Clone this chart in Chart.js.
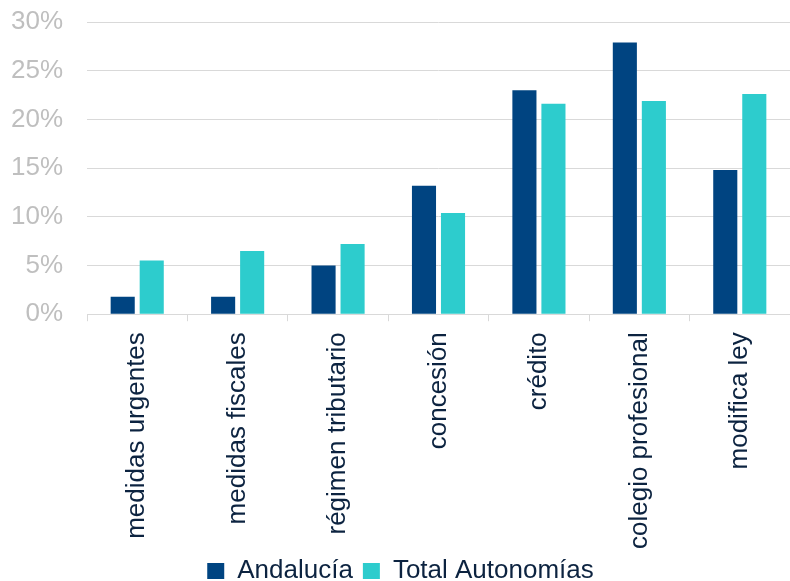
<!DOCTYPE html>
<html>
<head>
<meta charset="utf-8">
<script src="https://cdn.jsdelivr.net/npm/chart.js@4/dist/chart.umd.min.js"></script>
<style>
  body { margin: 0; background: #fff; }
  #wrap { width: 790px; height: 581px; position: relative; }
</style>
</head>
<body>
<div id="wrap"><canvas id="chart"></canvas></div>
<script>
// Categories and series (share of total, %)
const categories = ['medidas urgentes', 'medidas fiscales', 'régimen tributario', 'concesión', 'crédito', 'colegio profesional', 'modifica ley'];
const andalucia = [1.8, 1.8, 5.0, 13.2, 23.0, 27.9, 14.8];
const totalAutonomias = [5.5, 6.5, 7.2, 10.4, 21.6, 21.9, 22.6];
const yTicks = [0, 5, 10, 15, 20, 25, 30];

const navyText = '#0c2340';
const gridColor = '#d9d9d9';
const font = { family: "'Liberation Sans', Arial, sans-serif", size: 26 };

const ctx = document.getElementById('chart');
new Chart(ctx, {
    type: 'bar',
    data: {
        labels: categories,
        datasets: [
            {
                label: 'Andalucía',
                data: andalucia,
                backgroundColor: '#004481',
                categoryPercentage: 0.578,
                barPercentage: 0.83
            },
            {
                label: 'Total Autonomías',
                data: totalAutonomias,
                backgroundColor: '#2dcccd',
                categoryPercentage: 0.578,
                barPercentage: 0.83
            }
        ]
    },
    options: {
        responsive: true,
        maintainAspectRatio: false,
        animation: false,
        layout: {
            padding: { left: 11, right: 0, top: 22, bottom: -13 }
        },
        scales: {
            x: {
                afterFit: function(axis) {
                    // labels sit closer to the legend in the original
                    axis.height -= 12;
                },
                grid: {
                    drawOnChartArea: false,
                    drawTicks: true,
                    tickLength: 7,
                    color: gridColor
                },
                border: { display: true, color: gridColor },
                ticks: {
                    autoSkip: false,
                    maxRotation: 90,
                    minRotation: 90,
                    padding: 11,
                    color: navyText,
                    font: font
                }
            },
            y: {
                min: 0,
                max: 30,
                afterBuildTicks: function(axis) {
                    axis.ticks = yTicks.map(v => ({ value: v }));
                },
                afterFit: function(axis) {
                    axis.width = 76;
                    axis.paddingTop = 0;
                    axis.paddingBottom = 0;
                },
                grid: {
                    drawTicks: false,
                    color: gridColor
                },
                border: { display: false },
                ticks: {
                    padding: 24,
                    color: '#bfbfbf',
                    font: font,
                    callback: function(value) {
                        return value + '%';
                    }
                }
            }
        },
        plugins: {
            legend: {
                position: 'bottom',
                labels: {
                    color: navyText,
                    font: font,
                    boxWidth: 17,
                    boxHeight: 16,
                    padding: 10
                }
            },
            tooltip: { enabled: false }
        }
    }
});
</script>
</body>
</html>
